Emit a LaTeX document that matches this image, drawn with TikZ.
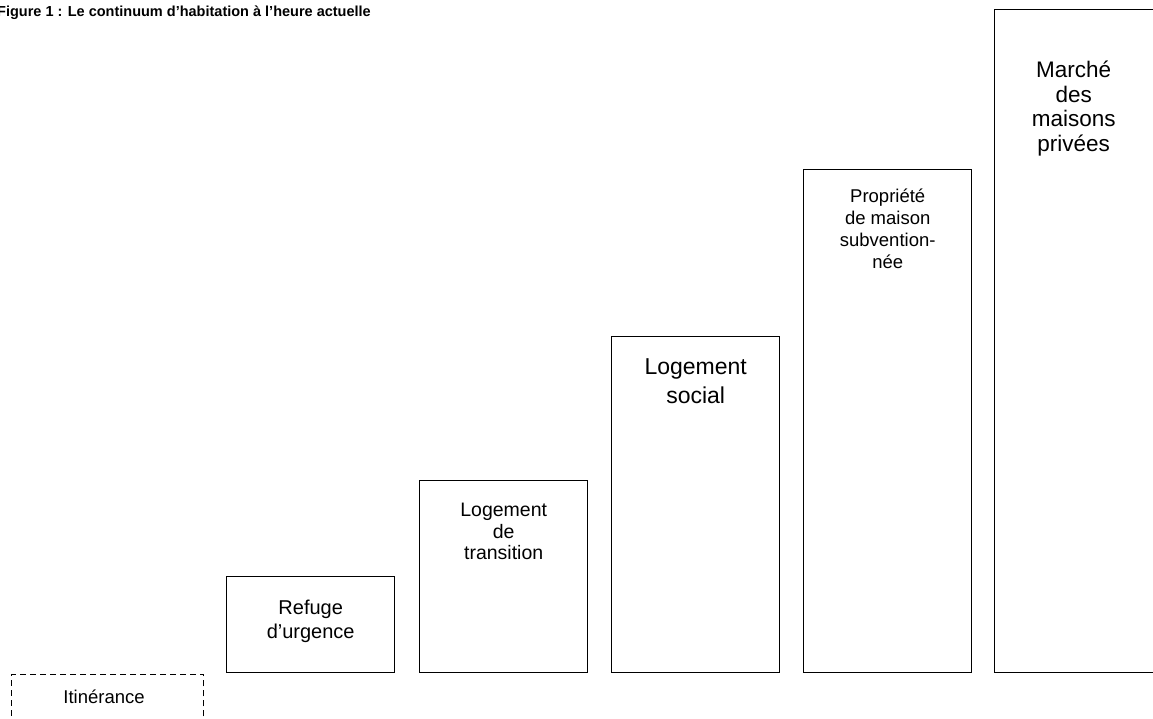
\documentclass[tikz,border=0pt]{standalone}
\usepackage{fontspec}
\setmainfont{Liberation Sans}
\begin{document}
\begin{tikzpicture}[x=1pt,y=1pt,
  box/.style={draw=black, line width=1.4pt, minimum width=168pt, anchor=south west, inner sep=0pt},
  dbox/.style={draw=black, line width=1.2pt, dash pattern=on 6pt off 4pt, anchor=south west, inner sep=0pt},
  lbl/.style={align=center, anchor=north, inner sep=0pt}]
\useasboundingbox (0,0) rectangle (1153,719);
\clip (0,0) rectangle (1153,719);
\node[anchor=base west, inner sep=0pt, font=\bfseries\fontsize{14.5}{17}\selectfont] (title) at (-3,702) {Figure 1 : Le continuum d’habitation à l’heure actuelle};
\node[dbox, minimum width=192pt, minimum height=60pt] (iti) at (11,-16) {};
\node[box, minimum height=96pt] (ref) at (226,46) {};
\node[box, minimum height=192pt] (tra) at (419,46) {};
\node[box, minimum height=336pt] (soc) at (611,46) {};
\node[box, minimum height=503pt] (pro) at (803,46) {};
\node[box, minimum height=663pt] (mar) at (994,46) {};
\node[lbl, font=\fontsize{18.5}{20}\selectfont] (itit) at (104,29) {Itinérance};
\node[lbl, font=\fontsize{20}{24}\selectfont] (reft) at (ref.north |- 0,119) {Refuge\\d’urgence};
\node[lbl, font=\fontsize{19.5}{21.5}\selectfont] (trat) at (tra.north |- 0,216) {Logement\\de\\transition};
\node[lbl, font=\fontsize{23}{29}\selectfont] (soct) at (soc.north |- 0,361) {Logement\\social};
\node[lbl, font=\fontsize{18.5}{22}\selectfont] (prot) at (pro.north |- 0,530) {Propriété\\de maison\\subvention-\\née};
\node[lbl, font=\fontsize{22.5}{24.5}\selectfont] (mart) at ([xshift=-5pt]mar.north |- 0,658) {Marché\\des\\maisons\\privées};
\end{tikzpicture}
\end{document}
